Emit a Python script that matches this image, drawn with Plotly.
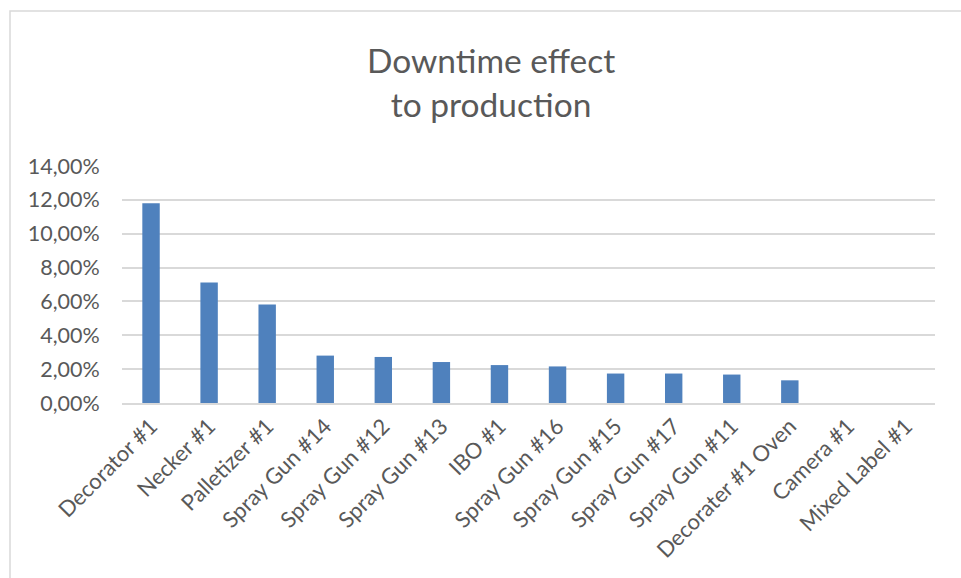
import plotly.graph_objects as go

# Downtime share per machine
machines = [
    "Decorator #1", "Necker #1", "Palletizer #1", "Spray Gun #14",
    "Spray Gun #12", "Spray Gun #13", "IBO #1", "Spray Gun #16",
    "Spray Gun #15", "Spray Gun #17", "Spray Gun #11", "Decorater #1 Oven",
    "Camera #1", "Mixed Label #1",
]
downtime_share = [
    0.1180, 0.0712, 0.0582, 0.0280,
    0.0272, 0.0242, 0.0224, 0.0216,
    0.0174, 0.0174, 0.0168, 0.0134,
    0.0, 0.0,
]
y_ticks = [0.0, 0.02, 0.04, 0.06, 0.08, 0.10, 0.12, 0.14]

FONT = "Lato"
TEXT = "#595959"
GRID = "#D9D9D9"

fig = go.Figure(
    go.Bar(
        x=machines,
        y=downtime_share,
        width=0.3,
        marker=dict(color="#4F81BD", line=dict(width=0)),
        hoverinfo="x+y",
    )
)

W, H = 961, 578
L, R, T, B = 122, 26, 166, 175
pw, ph = W - L - R, H - T - B

def px_x(px):
    return (px - L) / pw

def px_y(py):
    return (H - B - py) / ph

fig.update_layout(
    width=W,
    height=H,
    margin=dict(l=L, r=R, t=T, b=B, pad=0),
    paper_bgcolor="white",
    plot_bgcolor="white",
    separators=", ",
    showlegend=False,
    font=dict(family=FONT, color=TEXT),
    xaxis=dict(
        tickangle=-45,
        tickfont=dict(size=22, color=TEXT, family=FONT),
        showgrid=False,
        showline=True,
        linecolor=GRID,
        linewidth=1.5,
        ticks="",
        fixedrange=True,
    ),
    yaxis=dict(
        range=[0, 0.14],
        tickvals=y_ticks,
        tickformat=".2%",
        tickfont=dict(size=21.5, color=TEXT, family=FONT),
        showgrid=True,
        gridcolor=GRID,
        gridwidth=1.5,
        zeroline=False,
        showline=False,
        ticks="outside",
        ticklen=17,
        tickcolor="rgba(0,0,0,0)",
        fixedrange=True,
    ),
    annotations=[
        dict(
            text="Downtime effect<br>to production",
            xref="paper",
            yref="paper",
            x=px_x(491),
            y=px_y(38),
            xanchor="center",
            yanchor="top",
            showarrow=False,
            font=dict(size=33.5, color=TEXT, family=FONT),
        )
    ],
    shapes=[
        # chart frame
        dict(
            type="rect",
            xref="paper",
            yref="paper",
            x0=px_x(10),
            x1=px_x(1000),
            y0=px_y(640),
            y1=px_y(11),
            line=dict(color="#D9D9D9", width=1.5),
            fillcolor="rgba(0,0,0,0)",
            layer="below",
        )
    ],
)

fig.write_html("out.html")
